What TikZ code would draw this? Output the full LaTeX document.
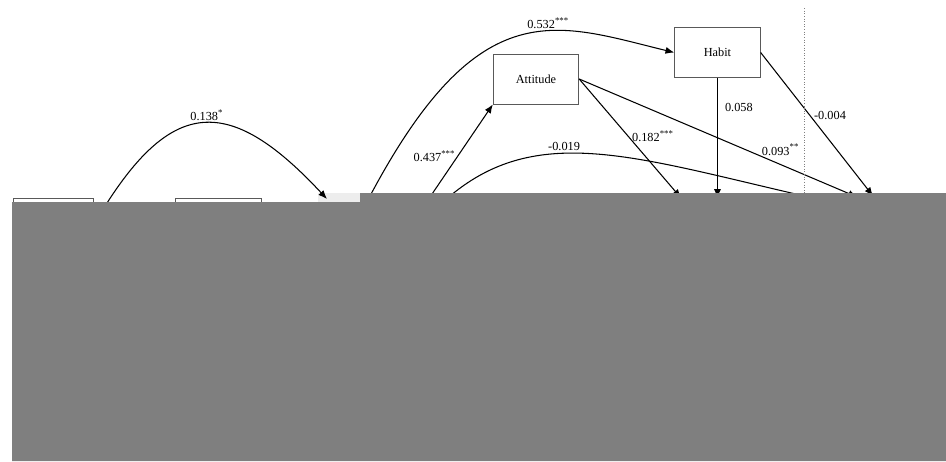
\documentclass[tikz,border=0pt]{standalone}
\usepackage{fontspec}
\setmainfont{Liberation Serif}
\usetikzlibrary{arrows.meta,positioning}
\definecolor{cover}{RGB}{127,127,127}

\begin{document}
\begin{tikzpicture}[x=0.02cm,y=-0.02cm,>={Latex[length=5pt,width=4pt]},on grid,
  font=\fontsize{7}{8}\selectfont,
  box/.style={draw=black!65,line width=0.5pt,minimum width=1.71cm,minimum height=1cm,inner sep=0pt},
  lab/.style={inner sep=1pt},
  conn/.style={->,line width=0.6pt}]
\useasboundingbox (0,0) rectangle (946,461);
\node[box] (att) at (536,79) {Attitude};
\node[box] (hab) [above right=0.53cm and 3.63cm of att] {Habit};
\node[box,minimum width=1.6cm] (b1) at (53,223) {};
\node[box,minimum width=1.72cm] (b2) [right=3.3cm of b1] {};
% ends under the cover
\coordinate (s1) at (107,203);
\coordinate (t1) at (327,199);
\coordinate (s2) at (370,196);
\coordinate (s3) at (430,197);
\coordinate (s4) at (450,196);
\coordinate (t4) at (840,204);
\coordinate (t5) at (681,198);
\coordinate (t6) at (hab.south |- t5);
\coordinate (t7) at (857,197);
\coordinate (t8) at (873,196);
\coordinate (d1) at (804,8);
\coordinate (d2) at (804,193);

\fill[black!7] (318,193) rectangle (360,202);
\draw[conn] (s1) .. controls (175,97) and (232,97) .. node[lab,above] {0.138\textsuperscript{*}} (t1);
\draw[conn] (s2) .. controls (480,-11) and (557,24) .. node[lab,above,pos=.6] {0.532\textsuperscript{***}} (hab.west);
\draw[conn] (s4) .. controls (542,119) and (645,161) .. node[lab,above,pos=.38] {-0.019} (t4);
\path[conn]
  (s3) edge node[lab,pos=.44,anchor=east] {0.437\textsuperscript{***}} (att.south west)
  (att.east) edge node[lab,pos=.48,right=1pt] {0.182\textsuperscript{***}} (t5)
             edge node[lab,pos=.725,above=4pt] {0.093\textsuperscript{**}} (t7)
  (hab.south) edge node[lab,pos=.25,right=3pt] {0.058} (t6)
  (hab.east) edge node[lab,pos=.44,right=1pt] {-0.004} (t8);
\draw[gray,densely dotted,line width=0.5pt] (d1) -- (d2);
\fill[cover] (12,202) -- (360,202) -- (360,193) -- (946,193) -- (946,461) -- (12,461) -- cycle;
\end{tikzpicture}
\end{document}
